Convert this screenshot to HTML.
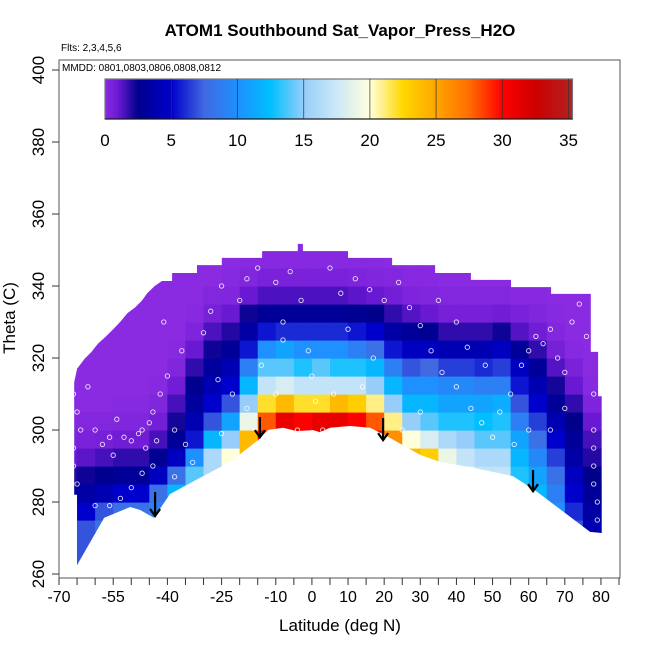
<!DOCTYPE html>
<html><head><meta charset="utf-8"><style>
body{margin:0;background:#fff;}
svg text{font-family:"Liberation Sans",sans-serif;}
</style></head><body>
<svg id="chart" width="650" height="650" viewBox="0 0 650 650" xmlns="http://www.w3.org/2000/svg">
<text x="340" y="36" text-anchor="middle" font-size="17" font-weight="bold">ATOM1 Southbound Sat_Vapor_Press_H2O</text>
<text x="61" y="51" font-size="10">Flts: 2,3,4,5,6</text>
<g id="heat"></g>
<g id="pts"></g>
<g id="arrows"></g>
<rect x="59" y="60" width="561" height="518" fill="none" stroke="#555" stroke-width="1"/>
<text x="62" y="71" font-size="10">MMDD: 0801,0803,0806,0808,0812</text>
<g id="cbar"></g>
<g id="axes"></g>
<text x="340" y="631" text-anchor="middle" font-size="17">Latitude (deg N)</text>
<text transform="translate(15,318) rotate(-90)" text-anchor="middle" font-size="17">Theta (C)</text>
</svg>
<script>
const latCenters=[-67.5,-62.5,-57.5,-52.5,-47.5,-42.5,-37.5,-32.5,-27.5,-22.5,-17.5,-12.5,-7.5,-2.5,2.5,7.5,12.5,17.5,22.5,27.5,32.5,37.5,42.5,47.5,52.5,57.5,62.5,67.5,72.5,77.5,82.5];
const thetaCenters=[262.5,267.5,272.5,277.5,282.5,287.5,292.5,297.5,302.5,307.5,312.5,317.5,322.5,327.5,332.5,337.5,342.5,347.5,352.5];
const valuesByLat=[
[5,5,5,4,3,2,1,0.4,0.2,0.1,0,0,0,0,0,0,0,0,0],
[7,7,7,5,3.5,2.3,1.2,0.5,0.2,0,0,0,0,0,0,0,0,0,0],
[8,8,8,7,4,2.6,1.5,0.6,0.2,0,0,0,0,0,0,0,0,0,0],
[9,9,9,8,5,3,1.8,0.8,0.3,0.1,0,0,0,0,0,0,0,0,0],
[8,8,8,8,5,3,1.8,0.8,0.3,0.1,0,0,0,0,0,0,0,0,0],
[9,9,9,9,8,4.5,2.8,1.5,0.7,0.3,0.1,0,0,0,0,0,0,0,0],
[13,13,13,13,12,8,4.5,3,2.2,1.5,0.8,0.3,0.1,0,0,0,0,0,0],
[14,14,14,14,14,14,10,5.5,4,3.2,2.6,1.8,1,0.4,0.1,0,0,0,0],
[16,16,16,16,16,16,16,12,7,5,4,3.2,2.3,1.4,0.6,0.2,0,0,0],
[20,20,20,20,20,20,20,15,11,7,5,4,3,2,1,0.3,0.1,0,0],
[24,24,24,24,24,24,24,24,19,15,12,9,5.5,3.5,2.3,1,0.3,0.1,0],
[30,30,30,30,30,30,30,30,28,22,17,14,10,5.5,3,1.4,0.5,0.1,0],
[32,32,32,32,32,32,32,32,31,24,18,14,11,6,3,1.4,0.5,0.1,0],
[30,30,30,30,30,30,30,30,30,22,17,13,10,6,3,1.4,0.5,0.1,0],
[31,31,31,31,31,31,31,31,31,22,17,14,10,6,3,1.4,0.5,0.1,0],
[31,31,31,31,31,31,31,31,31,24,17,13,10,6,3,1.4,0.5,0.1,0],
[31,31,31,31,31,31,31,31,30,23,17,13,9,5.5,2.8,1.2,0.4,0.1,0],
[30,30,30,30,30,30,30,30,28,21,15,12,8,5,2.5,1,0.3,0.1,0],
[26,26,26,26,26,26,26,26,21,15,12,9,5.5,3.5,1.8,0.7,0.2,0,0],
[24,24,24,24,24,24,24,20,15,12,10,7,4.5,3,1.3,0.4,0.1,0,0],
[23,23,23,23,23,23,23,18,14,12,10,7.5,4.5,2.8,1,0.3,0.1,0,0],
[21,21,21,21,21,21,19,16,13,11,9.5,6.5,4,1.8,0.6,0.2,0,0,0],
[19,19,19,19,19,19,17,15,13,11,9.5,6.5,4,1.8,0.6,0.2,0,0,0],
[17,17,17,17,17,17,16,14,12.5,11,9,6,4,1.8,0.6,0.2,0,0,0],
[17,17,17,17,17,17,16,14,13,11.5,9,6.5,4.5,2.3,0.8,0.2,0,0,0],
[14,14,14,14,14,13,12,11,9,7,5.5,4.5,3,1.3,0.5,0.1,0,0,0],
[12,12,12,12,12,11,9.5,8,6.5,5,4,3,1.8,0.8,0.3,0.1,0,0,0],
[10,10,10,10,9,8,6.5,5,4,3,2.2,1.3,0.6,0.2,0.1,0,0,0,0],
[7,7,7,6,5,4.5,3.5,3,2.5,1.8,1,0.5,0.1,0,0,0,0,0,0],
[4,4,4,3.5,3,2.5,2,1.5,1,0.4,0.1,0,0,0,0,0,0,0,0],
[3,3,3,3,2.5,2,1.5,1,0.5,0.2,0,0,0,0,0,0,0,0,0]
];
const outlineLat=[-65.8,-65,-63,-61,-59.2,-57,-55,-53.1,-51,-49,-47,-45.6,-43.5,-41.5,-38.7,-38.7,-31.8,-31.8,-24.9,-24.9,-13.8,-13.8,-3.9,-3.9,-2.5,-2.5,10,10,22.2,22.2,34.1,34.1,44,44,55.1,55.1,66.2,66.2,77.2,77.2,79.2,79.2,80.2,80.2,77,61.7,55.6,43.8,35.5,29.9,20.2,16.1,10.5,5,2.2,0.3,-4.1,-8,-12.2,-14.9,-22.7,-31,-39.3,-43.7,-47.6,-50.3,-57.5,-65,-65,-65.8];
const outlineTheta=[313.3,317,319.7,321.7,324,326,328,330,332.5,334,336,338,340,341.4,341.4,343.6,343.6,345.8,345.8,347.8,347.8,349.7,349.7,351.7,351.7,349.7,349.7,347.8,347.8,345.8,345.8,343.6,343.6,341.7,341.7,339.7,339.7,337.8,337.8,321.7,321.7,309.4,309.4,271.4,271.7,283.3,287.2,289.7,291.1,293.1,298.6,300.6,301.1,300.6,299.4,300,299.7,300.6,300,297.2,291.1,286.7,282.2,275.6,277.8,278.6,275.6,262.5,282,282];
const ptLat=[-66,-65,-64,-66,-66,-65,-66,-62,-60,-58,-56,-55,-54,-52,-50,-48,-47,-46,-45,-44,-43,-44,-47,-50,-53,-56,-60,-42,-40,-38,-35,-36,-41,-48,-30,-28,-25,-20,-18,-15,-10,-8,-6,-3,-1,0,1,-4,-22,-25,-33,-38,-26,-14,-10,-18,5,8,12,16,20,24,27,30,33,36,40,44,47,50,52,55,58,60,62,64,66,68,70,72,74,76,78,78,78,78,78,79,79,56,60,48,40,35,25,17,10,6,3,-8,14,30,43,66,70];
const ptTheta=[310,305,300,295,290,285,280,312,300,296,298,293,303,298,297,299,300,295,302,305,297,290,288,284,281,279,279,310,315,300,296,322,330,336,327,333,340,336,342,345,341,330,344,336,322,315,308,300,310,299,291,287,314,318,310,306,345,338,342,339,336,341,334,329,322,316,312,306,302,298,305,310,318,322,326,324,328,320,316,330,335,326,310,300,295,290,285,280,275,296,300,318,330,336,300,320,328,310,300,325,312,305,323,300,306];
const arrowLat=[-43.4,-14.4,19.7,61.2];
const arrowTop=[282.8,303.6,303.3,288.9];
const arrowBottom=[276.1,298,297.2,283];
const cbTicks=[0,5,10,15,20,25,30,35];
const xTickLabels=[-70,-55,-40,-25,-10,0,10,20,30,40,50,60,70,80];
const yTickLabels=[260,280,300,320,340,360,380,400];

const NS='http://www.w3.org/2000/svg';
function X(lat){return 59+(lat+70)*3.613;}
function Y(t){return 574-(t-260)*3.6;}
const stops=[[0,[138,43,226]],[1,[105,25,210]],[2.5,[0,0,139]],[5,[0,0,205]],[7.5,[65,105,225]],[10,[30,144,255]],[12.5,[0,191,255]],[15,[150,205,250]],[17.5,[205,232,248]],[20,[255,255,220]],[22.5,[255,215,0]],[25,[255,165,0]],[27.5,[255,110,0]],[30,[255,0,0]],[32.5,[205,0,0]],[35.3,[178,34,34]]];
function C(v){
  if(v<=0)return 'rgb(138,43,226)';
  for(let i=1;i<stops.length;i++){
    if(v<=stops[i][0]){const a=stops[i-1],b=stops[i];const f=(v-a[0])/(b[0]-a[0]);
      return 'rgb('+a[1].map((c,k)=>Math.round(c+(b[1][k]-c)*f)).join(',')+')';}
  }
  return 'rgb(178,34,34)';
}
function mk(tag,attrs,parent){const e=document.createElementNS(NS,tag);for(const k in attrs)e.setAttribute(k,attrs[k]);parent.appendChild(e);return e;}
const svg=document.getElementById('chart');
const defs=mk('defs',{},svg);
const cp=mk('clipPath',{id:'dataclip'},defs);
mk('polygon',{points:outlineLat.map((l,i)=>X(l).toFixed(1)+','+Y(outlineTheta[i]).toFixed(1)).join(' ')},cp);
const heat=document.getElementById('heat');
heat.setAttribute('clip-path','url(#dataclip)');
latCenters.forEach((lat,i)=>{
  thetaCenters.forEach((th,j)=>{
    const v=valuesByLat[i][j];
    const r=mk('rect',{x:X(lat-2.5).toFixed(2),y:Y(th+2.5).toFixed(2),width:(3.613*5+0.6).toFixed(2),height:(18.6).toFixed(2),fill:C(v)},heat);
    
    
  });
});
const pts=document.getElementById('pts');
ptLat.forEach((l,i)=>{
  const c=mk('circle',{cx:X(l).toFixed(1),cy:Y(ptTheta[i]).toFixed(1),r:2.2,fill:'none',stroke:'#fff','stroke-width':0.9,opacity:0.85},pts);
  
  
});
const ar=document.getElementById('arrows');
arrowLat.forEach((l,i)=>{
  const g=mk('g',{stroke:'#000','stroke-width':2.2,fill:'none'},ar);
  
  
  const x=X(l),y1=Y(arrowTop[i]),y2=Y(arrowBottom[i]);
  mk('line',{x1:x,y1:y1,x2:x,y2:y2},g);
  mk('polyline',{points:(x-5)+','+(y2-7)+' '+x+','+y2+' '+(x+5)+','+(y2-7)},g);
});
const cb=document.getElementById('cbar');
const cbL=105,cbR=572.5,cbT=79,cbB=119,cbMax=35.3;
function CX(v){return cbL+(v/cbMax)*(cbR-cbL);}
for(let k=0;k<200;k++){
  const v0=k/200*cbMax,v1=(k+1)/200*cbMax;
  const r=mk('rect',{x:CX(v0).toFixed(2),y:cbT,width:(CX(v1)-CX(v0)+0.5).toFixed(2),height:cbB-cbT,fill:C((v0+v1)/2)},cb);
  
  
}
mk('rect',{x:cbL,y:cbT,width:cbR-cbL,height:cbB-cbT,fill:'none',stroke:'#777','stroke-width':1.2},cb);
mk('line',{x1:cbL,y1:cbB,x2:cbR,y2:cbB,stroke:'#000','stroke-width':1},cb);
cbTicks.forEach(t=>{
  const x=CX(t);
  if(t>0){const l=mk('line',{x1:x,y1:cbT,x2:x,y2:cbB,stroke:'#333','stroke-width':1,opacity:0.7},cb);
  
  }
  const tx=mk('text',{x:x,y:146,'text-anchor':'middle','font-size':17},cb);
  tx.textContent=t;
  
  
});
const ax=document.getElementById('axes');
for(let l=-70;l<=85;l+=5){
  mk('line',{x1:X(l),y1:578,x2:X(l),y2:585,stroke:'#333','stroke-width':1},ax);
}
xTickLabels.forEach(l=>{
  const t=mk('text',{x:X(l),y:602,'text-anchor':'middle','font-size':16},ax);
  t.textContent=l;
  
  
});
yTickLabels.forEach(v=>{
  const y=Y(v);
  mk('line',{x1:52,y1:y,x2:59,y2:y,stroke:'#333','stroke-width':1},ax);
  const t=mk('text',{transform:'translate(44,'+y+') rotate(-90)','text-anchor':'middle','font-size':17},ax);
  t.textContent=v;
  
  
});
</script>
</body></html>
